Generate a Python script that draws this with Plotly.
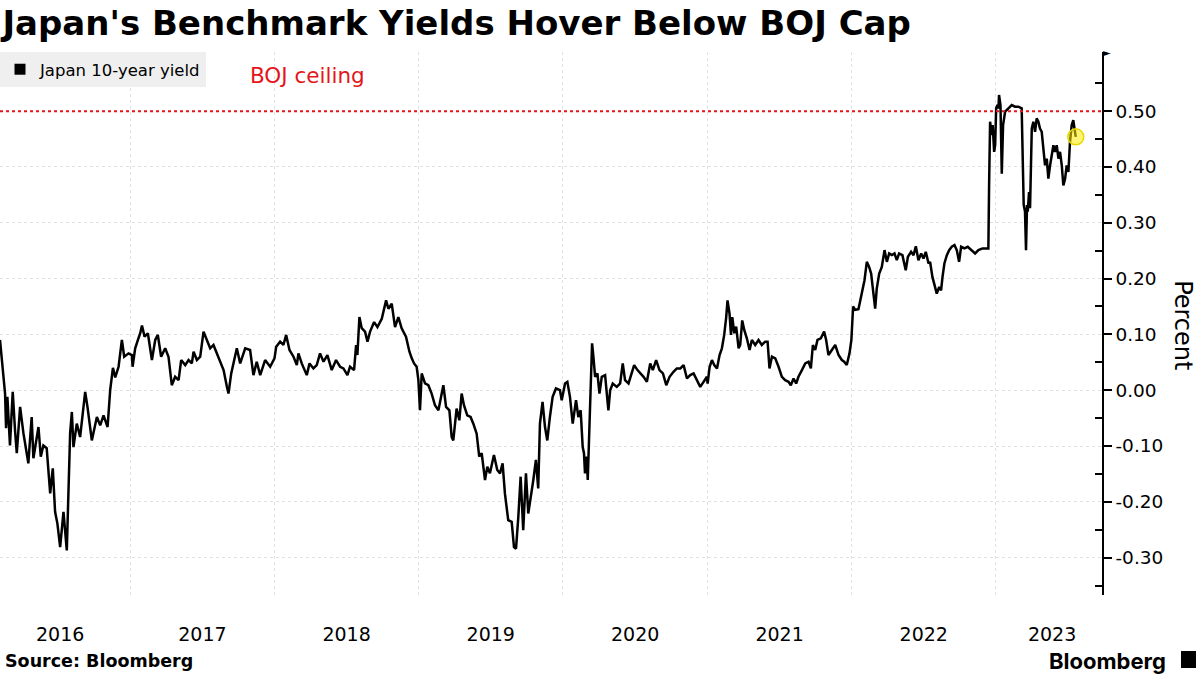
import pandas as pd
import plotly.graph_objects as go

# ---- data (decimal-year time stamps, yield in percent) ----
t_2016 = [2016.099, 2016.111, 2016.117, 2016.134, 2016.141, 2016.150, 2016.168, 2016.187, 2016.203, 2016.215,
          2016.238, 2016.261, 2016.295, 2016.318, 2016.330, 2016.348, 2016.365, 2016.381, 2016.399, 2016.422,
          2016.446, 2016.464, 2016.480, 2016.496, 2016.515, 2016.538, 2016.561, 2016.584, 2016.596, 2016.607,
          2016.630, 2016.653, 2016.677, 2016.688, 2016.704, 2016.734, 2016.769, 2016.792, 2016.815, 2016.843,
          2016.861, 2016.880, 2016.896, 2016.919, 2016.942, 2016.958, 2016.988]
y_2016 = [0.09, 0.054, 0.03, -0.006, -0.068, -0.012, -0.099, -0.003, -0.072, -0.113,
          -0.03, -0.077, -0.131, -0.048, -0.122, -0.09, -0.066, -0.119, -0.099, -0.104,
          -0.185, -0.14, -0.218, -0.239, -0.281, -0.218, -0.287, -0.077, -0.039, -0.102,
          -0.06, -0.084, -0.021, -0.003, -0.03, -0.09, -0.048, -0.063, -0.045, -0.066,
          0.0, 0.04, 0.023, 0.042, 0.09, 0.06, 0.066]

t_2017 = [2017.011, 2017.016, 2017.034, 2017.053, 2017.069, 2017.081, 2017.099, 2017.122, 2017.150, 2017.173,
          2017.191, 2017.214, 2017.242, 2017.265, 2017.288, 2017.311, 2017.335, 2017.353, 2017.381, 2017.404,
          2017.427, 2017.439, 2017.462, 2017.485, 2017.508, 2017.531, 2017.554, 2017.577, 2017.600, 2017.623,
          2017.647, 2017.670, 2017.681, 2017.700, 2017.716, 2017.739, 2017.762, 2017.797, 2017.831, 2017.854,
          2017.877, 2017.901, 2017.935, 2017.970]
y_2017 = [0.063, 0.042, 0.075, 0.09, 0.102, 0.116, 0.096, 0.102, 0.054, 0.09,
          0.099, 0.06, 0.075, 0.06, 0.009, 0.024, 0.018, 0.054, 0.045, 0.054,
          0.048, 0.069, 0.054, 0.06, 0.105, 0.09, 0.075, 0.081, 0.066, 0.054,
          0.036, 0.006, -0.006, 0.03, 0.048, 0.075, 0.048, 0.075, 0.072, 0.027,
          0.051, 0.027, 0.054, 0.042]

t_2018 = [2018.000, 2018.012, 2018.039, 2018.062, 2018.081, 2018.104, 2018.132, 2018.155, 2018.166, 2018.189,
          2018.224, 2018.243, 2018.270, 2018.293, 2018.316, 2018.340, 2018.367, 2018.397, 2018.427, 2018.455,
          2018.478, 2018.506, 2018.524, 2018.552, 2018.566, 2018.575, 2018.589, 2018.605, 2018.628, 2018.645,
          2018.663, 2018.691, 2018.714, 2018.744, 2018.774, 2018.790, 2018.813, 2018.836, 2018.859, 2018.882,
          2018.912, 2018.936, 2018.952, 2018.968, 2018.986, 2018.998]
y_2018 = [0.057, 0.078, 0.087, 0.081, 0.099, 0.072, 0.06, 0.045, 0.066, 0.048,
          0.027, 0.048, 0.039, 0.045, 0.066, 0.051, 0.063, 0.036, 0.054, 0.042,
          0.039, 0.027, 0.042, 0.036, 0.081, 0.063, 0.131, 0.111, 0.105, 0.087,
          0.105, 0.122, 0.113, 0.128, 0.161, 0.146, 0.155, 0.113, 0.131, 0.111,
          0.096, 0.069, 0.057, 0.048, 0.042, 0.018]

t_2019 = [2019.009, 2019.021, 2019.044, 2019.067, 2019.090, 2019.113, 2019.137, 2019.153, 2019.171, 2019.190,
          2019.213, 2019.229, 2019.240, 2019.263, 2019.282, 2019.298, 2019.314, 2019.337, 2019.360, 2019.379,
          2019.402, 2019.420, 2019.437, 2019.460, 2019.476, 2019.494, 2019.522, 2019.545, 2019.564, 2019.582,
          2019.598, 2019.621, 2019.645, 2019.661, 2019.675, 2019.691, 2019.707, 2019.725, 2019.744, 2019.760,
          2019.776, 2019.795, 2019.813, 2019.829, 2019.841, 2019.859, 2019.876, 2019.892, 2019.910, 2019.929,
          2019.952, 2019.980, 2019.992]
y_2019 = [-0.036, 0.030, 0.012, 0.009, -0.006, -0.027, -0.036, -0.012, 0.009, -0.030,
          -0.036, -0.084, -0.090, -0.033, -0.054, -0.006, -0.027, -0.045, -0.048, -0.060,
          -0.078, -0.119, -0.113, -0.161, -0.137, -0.149, -0.116, -0.143, -0.149, -0.131,
          -0.185, -0.233, -0.236, -0.281, -0.284, -0.227, -0.155, -0.251, -0.149, -0.221,
          -0.197, -0.161, -0.125, -0.176, -0.060, -0.021, -0.066, -0.090, -0.048, -0.012,
          0.003, 0.0, -0.018]

t_2020 = [2020.015, 2020.031, 2020.049, 2020.068, 2020.077, 2020.091, 2020.107, 2020.123, 2020.137, 2020.146,
          2020.153, 2020.165, 2020.172, 2020.183, 2020.193, 2020.202, 2020.211, 2020.223, 2020.239, 2020.253,
          2020.269, 2020.292, 2020.308, 2020.315, 2020.327, 2020.345, 2020.373, 2020.396, 2020.414, 2020.430,
          2020.454, 2020.470, 2020.493, 2020.516, 2020.539, 2020.558, 2020.581, 2020.604, 2020.622, 2020.645,
          2020.668, 2020.692, 2020.715, 2020.738, 2020.765, 2020.788, 2020.812, 2020.835, 2020.858, 2020.881,
          2020.904, 2020.927, 2020.950, 2020.973, 2020.996]
y_2020 = [0.012, 0.015, -0.012, -0.060, -0.042, -0.018, -0.048, -0.036, -0.102, -0.113,
          -0.149, -0.119, -0.161, -0.060, 0.048, 0.084, 0.060, 0.024, 0.030, -0.006,
          0.024, 0.027, -0.018, -0.036, 0.0, 0.012, 0.006, 0.012, 0.048, 0.018,
          0.012, 0.024, 0.045, 0.036, 0.030, 0.024, 0.015, 0.048, 0.036, 0.054,
          0.036, 0.030, 0.009, 0.024, 0.033, 0.039, 0.039, 0.045, 0.021, 0.027,
          0.030, 0.018, 0.006, 0.015, 0.024]

t_2021 = [2021.001, 2021.015, 2021.031, 2021.047, 2021.066, 2021.084, 2021.100, 2021.116, 2021.130, 2021.139,
          2021.153, 2021.163, 2021.172, 2021.186, 2021.199, 2021.216, 2021.227, 2021.241, 2021.255, 2021.273,
          2021.292, 2021.308, 2021.331, 2021.354, 2021.377, 2021.400, 2021.417, 2021.430, 2021.447, 2021.470,
          2021.493, 2021.516, 2021.539, 2021.562, 2021.578, 2021.597, 2021.615, 2021.631, 2021.655, 2021.678,
          2021.701, 2021.717, 2021.731, 2021.747, 2021.763, 2021.786, 2021.809, 2021.823, 2021.839, 2021.862,
          2021.886, 2021.909, 2021.932, 2021.948, 2021.966, 2021.985, 2021.998]
y_2021 = [0.012, 0.042, 0.054, 0.045, 0.039, 0.063, 0.075, 0.099, 0.131, 0.161,
          0.137, 0.099, 0.131, 0.102, 0.114, 0.075, 0.081, 0.125, 0.108, 0.093,
          0.072, 0.090, 0.081, 0.090, 0.081, 0.087, 0.087, 0.039, 0.060, 0.057,
          0.042, 0.024, 0.018, 0.015, 0.009, 0.021, 0.012, 0.024, 0.036, 0.048,
          0.051, 0.039, 0.081, 0.072, 0.090, 0.093, 0.105, 0.090, 0.063, 0.072,
          0.081, 0.063, 0.054, 0.051, 0.045, 0.066, 0.090]

t_2022 = [2022.010, 2022.024, 2022.047, 2022.071, 2022.089, 2022.105, 2022.121, 2022.135, 2022.151, 2022.163,
          2022.174, 2022.191, 2022.209, 2022.228, 2022.244, 2022.260, 2022.279, 2022.297, 2022.313, 2022.329,
          2022.352, 2022.375, 2022.390, 2022.412, 2022.429, 2022.445, 2022.463, 2022.482, 2022.498, 2022.514,
          2022.533, 2022.544, 2022.560, 2022.574, 2022.590, 2022.607, 2022.620, 2022.630, 2022.643, 2022.660,
          2022.676, 2022.694, 2022.713, 2022.729, 2022.745, 2022.759, 2022.782, 2022.805, 2022.828, 2022.856,
          2022.879, 2022.907, 2022.930, 2022.948, 2022.953, 2022.960, 2022.971, 2022.978, 2022.988, 2022.995]
y_2022 = [0.150, 0.144, 0.145, 0.179, 0.197, 0.230, 0.221, 0.209, 0.167, 0.146,
          0.182, 0.209, 0.221, 0.251, 0.230, 0.245, 0.242, 0.245, 0.233, 0.245,
          0.242, 0.215, 0.239, 0.248, 0.242, 0.258, 0.233, 0.245, 0.236, 0.248,
          0.227, 0.230, 0.203, 0.188, 0.173, 0.185, 0.179, 0.203, 0.227, 0.242,
          0.251, 0.257, 0.260, 0.251, 0.230, 0.257, 0.254, 0.257, 0.251, 0.245,
          0.251, 0.254, 0.254, 0.254, 0.367, 0.481, 0.457, 0.475, 0.427, 0.439]

t_2023 = [2023.002, 2023.011, 2023.018, 2023.022, 2023.032, 2023.041, 2023.050, 2023.064, 2023.087, 2023.110,
          2023.133, 2023.156, 2023.179, 2023.186, 2023.193, 2023.202, 2023.209, 2023.216, 2023.221, 2023.230,
          2023.237, 2023.249, 2023.260, 2023.272, 2023.283, 2023.295, 2023.306, 2023.318, 2023.330, 2023.341,
          2023.353, 2023.364, 2023.376, 2023.387, 2023.399, 2023.410, 2023.422, 2023.434, 2023.445, 2023.457,
          2023.468, 2023.480, 2023.491, 2023.503, 2023.514, 2023.526, 2023.537, 2023.545, 2023.554]
y_2023 = [0.505, 0.511, 0.505, 0.529, 0.511, 0.388, 0.475, 0.499, 0.505, 0.511,
          0.508, 0.508, 0.505, 0.427, 0.332, 0.320, 0.251, 0.332, 0.320, 0.355,
          0.326, 0.469, 0.481, 0.463, 0.487, 0.481, 0.469, 0.463, 0.427, 0.403,
          0.415, 0.379, 0.403, 0.421, 0.439, 0.427, 0.439, 0.415, 0.427, 0.403,
          0.367, 0.379, 0.403, 0.391, 0.445, 0.475, 0.484, 0.469, 0.454]

BOJ_CAP = 0.50
SERIES_NAME = "Japan 10-year yield"
year_labels = ["2016", "2017", "2018", "2019", "2020", "2021", "2022", "2023"]
year_label_pos = [2016.515, 2017.5, 2018.5, 2019.5, 2020.5, 2021.5, 2022.5, 2023.39]
y_ticks = [-0.3, -0.2, -0.1, 0.0, 0.1, 0.2, 0.3, 0.4, 0.5]
x_start, x_end = 2016.099, 2023.736
y_min, y_max = -0.367, 0.606


def to_date(t):
    y = int(t)
    a = pd.Timestamp(y, 1, 1)
    b = pd.Timestamp(y + 1, 1, 1)
    return a + (b - a) * (t - y)


t_all = t_2016 + t_2017 + t_2018 + t_2019 + t_2020 + t_2021 + t_2022 + t_2023
y_all = y_2016 + y_2017 + y_2018 + y_2019 + y_2020 + y_2021 + y_2022 + y_2023
dates = [to_date(t) for t in t_all]

FONT = "DejaVu Sans"
GRID = "#e2e2e2"

fig = go.Figure()
fig.add_trace(go.Scatter(x=dates, y=y_all, mode="lines", line=dict(color="black", width=2.5),
                         showlegend=False, hoverinfo="x+y"))
# last-point highlight
fig.add_trace(go.Scatter(x=[dates[-1]], y=[y_all[-1]], mode="markers",
                         marker=dict(size=16, color="rgba(255,236,0,0.55)", line=dict(color="#e8d800", width=1.5)),
                         showlegend=False, hoverinfo="skip"))
# legend entry (square swatch)
fig.add_trace(go.Scatter(x=[None], y=[None], mode="markers", name=SERIES_NAME,
                         marker=dict(symbol="square", size=11, color="black")))

fig.add_hline(y=BOJ_CAP, line=dict(color="#e4151b", width=2, dash="dot"))

fig.update_layout(
    width=1200, height=675,
    margin=dict(l=0, r=98, t=52, b=80),
    paper_bgcolor="white", plot_bgcolor="white",
    font=dict(family=FONT, size=18, color="black"),
    title=dict(text="Japan's Benchmark Yields Hover Below BOJ Cap", x=0.002, xanchor="left",
               xref="container", yref="container", y=0.966, yanchor="middle",
               font=dict(family=FONT, size=34, weight="bold", color="black")),
    legend=dict(x=0, y=1, xanchor="left", yanchor="top", bgcolor="#efefef",
                font=dict(family=FONT, size=16.5, color="black"), itemwidth=30,
                borderwidth=0),
    xaxis=dict(range=[to_date(x_start), to_date(x_end)], showline=False, zeroline=False,
               tickmode="array", tickvals=[to_date(v) for v in year_label_pos], ticktext=year_labels,
               ticks="", showgrid=False, ticklabelstandoff=26,
               tickfont=dict(family=FONT, size=19, color="black"),
               minor=dict(tickmode="linear", tick0="2016-01-01", dtick="M12", showgrid=True,
                          gridcolor=GRID, griddash="dot", gridwidth=1, ticks="")),
    yaxis=dict(side="right", range=[y_min, y_max], zeroline=False,
               tickmode="array", tickvals=y_ticks, ticktext=[f"{v:.2f}" for v in y_ticks],
               showline=True, linecolor="black", linewidth=1.5,
               ticks="outside", ticklen=8, tickwidth=2, tickcolor="black",
               showgrid=True, gridcolor=GRID, griddash="dot", gridwidth=1,
               tickfont=dict(family=FONT, size=18.5, color="black"),
               minor=dict(tickmode="linear", tick0=0.05, dtick=0.1, ticks="inside", ticklen=7,
                          tickcolor="black", showgrid=False)),
)

fig.add_annotation(text="BOJ ceiling", xref="paper", yref="paper", x=0.225, y=0.9576,
                   xanchor="left", yanchor="middle", showarrow=False,
                   font=dict(family=FONT, size=21.5, color="#e4151b"))
fig.add_annotation(text="Percent", xref="paper", yref="paper", x=1.0735, y=0.497,
                   xanchor="center", yanchor="middle", textangle=90, showarrow=False,
                   font=dict(family=FONT, size=24, color="black"))
fig.add_annotation(text="<b>Source: Bloomberg</b>", xref="paper", yref="paper", x=0.003, y=-0.1215,
                   xanchor="left", yanchor="middle", showarrow=False,
                   font=dict(family=FONT, size=17.5, color="black"))
fig.add_annotation(text="Bloomberg", xref="paper", yref="paper", x=1.0599, y=-0.1215,
                   xanchor="right", yanchor="middle", showarrow=False,
                   font=dict(family="Inter", size=22, weight=700, color="black"))
# axis-top arrow head
fig.add_annotation(text="►", xref="paper", yref="paper", x=0.999, y=1.0, xanchor="left", yanchor="middle",
                   showarrow=False, font=dict(family=FONT, size=10, color="black"))
fig.add_shape(type="rect", xref="paper", yref="paper", x0=1.0717, x1=1.0853, y0=-0.1344, y1=-0.1031,
              fillcolor="black", line=dict(width=0))

fig.write_html("out.html")
